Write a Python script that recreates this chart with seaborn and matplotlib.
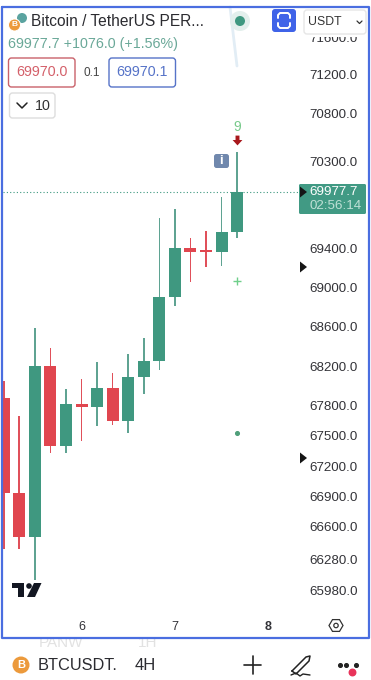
import numpy as np
import pandas as pd
import matplotlib
matplotlib.use("Agg")
import matplotlib.pyplot as plt
from matplotlib.patches import FancyBboxPatch, Polygon, Circle, Rectangle
import seaborn as sns

# 4H candles
candle_idx = list(range(16))
opens = [67880, 66934, 66499, 68202, 67400, 67819, 67790, 67980, 67650, 68091, 68252, 68901, 69402, 69380, 69361, 69567]
closes = [66934, 66499, 68202, 67400, 67819, 67790, 67980, 67650, 68091, 68252, 68901, 69402, 69361, 69362, 69567, 69977.7]
highs = [68051, 67700, 68586, 68383, 67970, 68071, 68242, 68132, 68323, 68485, 69711, 69803, 69505, 69577, 69928, 70394]
lows = [66381, 66381, 66078, 67330, 67330, 67450, 67600, 67610, 67530, 67920, 68162, 68810, 69053, 69207, 69217, 69505]

price_ticks = [71600, 71200, 70800, 70300, 69400, 69000, 68600, 68200, 67800, 67500, 67200, 66900, 66600, 66280, 65980]
price_labels = [f"{p:.1f}" for p in price_ticks]
day_pos = [5, 11, 17]
day_labels = ["6", "7", "8"]
last_price = 69977.7
plus_price = 69063
dot_price = 67530
nine_price = 70655
arrow_price = 70519

GREEN = "#3f9880"
GREEN_WICK = "#5fa392"
RED = "#e0464f"
RED_WICK = "#e0505a"
BLUE = "#4a6ee0"
TEXT = "#333338"

sns.set_theme(style="white")
plt.rcParams["font.family"] = ["Liberation Sans", "DejaVu Sans"]

fig = plt.figure(figsize=(3.71, 6.8), dpi=100)
ax = fig.add_axes([3 / 371, 1 - 612 / 680, 297 / 371, 605 / 680])


def bars(idx, low, high, color, width):
    sub = pd.DataFrame({"i": idx, "h": np.array(high) - np.array(low)})
    sns.barplot(data=sub, x="i", y="h", bottom=low, native_scale=True, width=width,
                color=color, saturation=1, errorbar=None, linewidth=0, ax=ax)


up = [i for i in candle_idx if closes[i] >= opens[i]]
down = [i for i in candle_idx if closes[i] < opens[i]]

bars(up, [lows[i] for i in up], [highs[i] for i in up], GREEN_WICK, 0.105)
bars(down, [lows[i] for i in down], [highs[i] for i in down], RED_WICK, 0.105)
bars(up, [opens[i] for i in up], [closes[i] for i in up], GREEN, 0.77)
bars(down, [closes[i] for i in down], [opens[i] for i in down], RED, 0.77)

arrow_shape = [(-0.4, 1), (0.4, 1), (0.4, 0.1), (1, 0.1), (0, -1), (-1, 0.1), (-0.4, 0.1)]
ax.axhline(last_price, color=GREEN, lw=0.8, ls=(0, (1, 2)))
ax.scatter([15], [plus_price], marker="+", s=28, color="#6fcf8a", linewidths=1, zorder=5)
ax.scatter([15], [dot_price], marker="o", s=7, color="#4f9f7a", zorder=5)
ax.text(15, nine_price, "9", color="#77c98a", fontsize=10, ha="center", va="center")
ax.scatter([15], [arrow_price], marker=arrow_shape, s=50, color="#a8181c", linewidths=0, zorder=5)

ax.set_yscale("log")
ax.set_ylim(65766, 71919)
ax.set_xlim(-0.045, 19.04)
ax.minorticks_off()
ax.set_yticks(price_ticks, price_labels)
ax.yaxis.tick_right()
ax.set_xticks(day_pos, day_labels)
ax.set_xlabel("")
ax.set_ylabel("")
ax.tick_params(axis="y", length=0, pad=6.5, labelsize=9.6, labelcolor=TEXT)
ax.tick_params(axis="x", length=0, pad=6.5, labelsize=9, labelcolor=TEXT)
ax.get_xticklabels()[2].set_fontweight("bold")
sns.despine(ax=ax, left=True, bottom=True, right=True, top=True)

# everything round the chart, in pixel coordinates
ov = fig.add_axes([0, 0, 1, 1], zorder=10)
ov.set_xlim(0, 371)
ov.set_ylim(680, 0)
ov.axis("off")
ov.patch.set_alpha(0)


def box(x0, y0, x1, y1, fc="white", ec="none", lw=1, r=3, z=2):
    ov.add_patch(FancyBboxPatch((x0, y0), x1 - x0, y1 - y0, boxstyle=f"round,pad=0,rounding_size={r}",
                                fc=fc, ec=ec, lw=lw, zorder=z))


def label(x, y, s, size, color=TEXT, ha="left", **kw):
    ov.text(x, y, s, fontsize=size, color=color, ha=ha, va="center", zorder=6, **kw)


# blue frame
ov.plot([1.5, 369, 369, 1.5, 1.5], [6.5, 6.5, 637.5, 637.5, 6.5], color=BLUE, lw=1.6, zorder=8)

# header
ov.add_patch(Circle((22, 18), 5, fc="#5aa3a0", ec="none", zorder=2))
ov.add_patch(Circle((14.5, 25), 6, fc="#ec9a3c", ec="white", lw=0.7, zorder=3))
label(14.5, 25, "B", 6, "white", ha="center", fontweight="bold")
label(31, 22, "Bitcoin / TetherUS PER...", 11.2, "#2b2b30")
label(8, 44, "69977.7 +1076.0 (+1.56%)", 10.3, "#6aa898")
box(8.5, 58, 75, 87, ec="#c9616a")
label(41.5, 72.5, "69970.0", 10.3, "#d4606a", ha="center")
label(91.5, 72.5, "0.1", 8.5, "#444444", ha="center")
box(109, 58, 175.5, 87, ec="#5673c8")
label(142, 72.5, "69970.1", 10.3, "#5673c8", ha="center")
box(9.5, 93, 55, 118, ec="#dddddd")
ov.plot([17, 22, 27], [103, 108, 103], color="#222222", lw=1.1, zorder=6)
label(35, 106, "10", 10.3, "#333333")

ov.plot([230, 237], [7, 66], color="#e2edf5", lw=2, zorder=1)
ov.add_patch(Circle((240, 21), 10, fc="#e3efec", ec="none", zorder=2))
ov.add_patch(Circle((240, 21), 5, fc="#3f9880", ec="none", zorder=3))

box(272, 9, 296, 32, fc="#3f63e8", r=3)
ov.plot([278, 278, 280, 288, 290, 290], [18, 15, 13, 13, 15, 18], color="white", lw=1.4, zorder=4)
ov.plot([278, 278, 280, 288, 290, 290], [23, 26, 28, 28, 26, 23], color="white", lw=1.4, zorder=4)

# the currency box hides the top half of the 71600 label
ov.add_patch(Rectangle((304, 30), 62, 6.5, fc="white", ec="none", zorder=1.5))
box(304, 10, 366, 34, ec="#e6e6e6")
label(308, 22, "USDT", 8.8, "#333333")
ov.plot([357, 359.5, 362], [21, 23.5, 21], color="#333333", lw=0.9, zorder=6)

# info badge
box(214, 154, 229, 168, fc="#7088ad", r=2.5)
label(221.5, 161, "i", 9.5, "white", ha="center", fontweight="bold")

# last price tag and the axis markers
box(299, 184, 366, 214, fc="#419a84", r=1.5)
label(309, 192, "69977.7", 9.6, "white")
label(309, 206, "02:56:14", 9.6, "#bfe0d6")
for y in [192, 267, 458]:
    ov.add_patch(Polygon([(300, y - 5.5), (307, y), (300, y + 5.5)], fc="#151515", ec="none", zorder=7))

# TradingView mark
ov.add_patch(Polygon([(12, 583), (24, 583), (24, 597), (18, 597), (18, 588), (12, 588)], fc="#131722", ec="none", zorder=5))
ov.add_patch(Circle((29, 586), 2.8, fc="#131722", ec="none", zorder=5))
ov.add_patch(Polygon([(34, 583), (41.5, 583), (35, 597), (27, 597)], fc="#131722", ec="none", zorder=5))

# settings hexagon
hex_a = np.deg2rad(np.arange(0, 360, 60))
ov.add_patch(Polygon(np.c_[336 + 7 * np.cos(hex_a), 625.5 + 6.8 * np.sin(hex_a)], fc="none", ec="#333333", lw=0.9, zorder=6))
ov.add_patch(Circle((336, 625.5), 2.2, fc="none", ec="#333333", lw=0.9, zorder=6))

# bottom bar
label(39, 643, "PANW", 11, "#e2e2e2")
label(138, 643, "1H", 11, "#e2e2e2")
ov.add_patch(Rectangle((0, 628), 371, 10, fc="none", ec="none"))
ov.add_patch(Circle((21, 665), 8.5, fc="#ec9a3c", ec="none", zorder=3))
label(21, 665, "B", 8, "white", ha="center", fontweight="bold")
label(38, 665.5, "BTCUSDT.", 11.8, "#2b2b30")
label(135, 665.5, "4H", 12, "#2b2b30")
ov.plot([244, 261], [665, 665], color="#222222", lw=1.2, zorder=6)
ov.plot([252.5, 252.5], [656, 674], color="#222222", lw=1.2, zorder=6)
ov.plot([292, 306, 310, 309, 296, 292], [671, 657, 656, 661, 674, 671], color="#222222", lw=1.1, zorder=6)
ov.plot([291, 296, 300, 303, 310], [675, 673, 676, 674, 675], color="#222222", lw=1, zorder=6)
ov.scatter([340, 346, 356], [665, 665, 665], s=7, color="#222222", zorder=6)
ov.scatter([352], [672], s=22, color="#e8335a", zorder=7)

fig.savefig("out.png", dpi=100)
